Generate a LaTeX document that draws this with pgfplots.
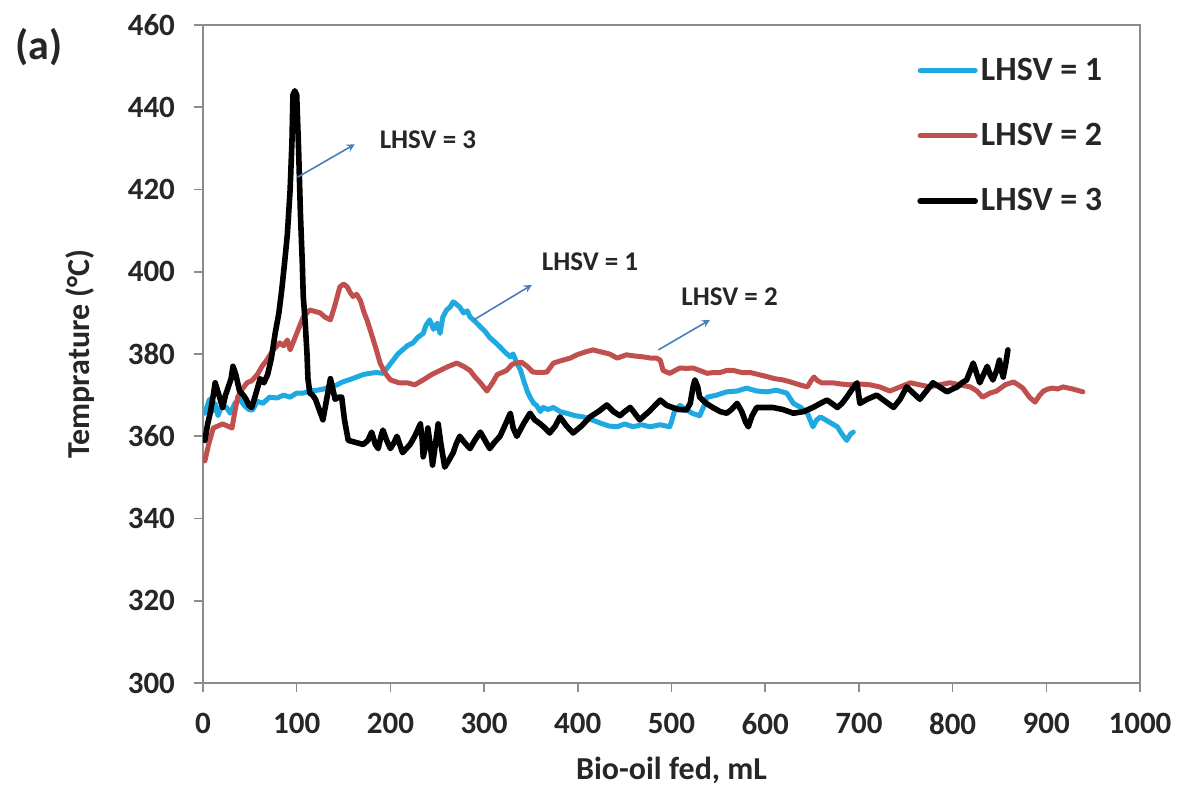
\documentclass[border=0pt]{standalone}
\usepackage{fontspec}
\setmainfont{Carlito}
\usepackage{pgfplots}
\pgfplotsset{compat=1.18}
\definecolor{lblue}{HTML}{1FA9E1}
\definecolor{lred}{HTML}{C0504D}
\definecolor{agray}{HTML}{8C8C8C}
\definecolor{arrowc}{HTML}{4A7EBB}
\begin{document}
\begin{tikzpicture}
\begin{axis}[
  at={(0,0)}, anchor=south west,
  scale only axis, width=468.5pt, height=329pt,
  xmin=0, xmax=1000, ymin=300, ymax=460,
  xtick={0,100,...,1000}, ytick={300,320,...,460},
  axis line style={agray, line width=0.8pt},
  tick style={agray, line width=0.8pt},
  tick align=outside, major tick length=4.5pt,
  xtick pos=bottom, ytick pos=left,
  /pgf/number format/assume math mode=true,
  /pgf/number format/1000 sep={},
  ticklabel style={font=\fontsize{15.5}{18}\selectfont\bfseries, text=black!85},
  yticklabel style={xshift=-6pt},
  xticklabel style={yshift=-7pt},
  xlabel={Bio-oil fed, mL}, ylabel={Temprature (°C)},
  label style={font=\fontsize{16}{19}\selectfont\bfseries, text=black!85},
  xlabel style={at={(axis description cs:0.5,-0.1322)}, anchor=center},
  ylabel style={at={(axis description cs:-0.1313,0.5)}, anchor=center},
  legend style={draw=none, fill=none, at={(rel axis cs:0.762,0.955)}, anchor=north west,
    inner sep=0pt, font=\fontsize{17}{20}\selectfont\bfseries, row sep=17pt,
    nodes={inner sep=1.5pt, text=black!85}},
  legend cell align=left,
  legend image code/.code={\draw[#1] (0pt,0pt) -- (27.5pt,0pt);},
  every axis plot/.append style={line join=round, line cap=round},
]
\addplot[lblue, line width=2.5pt] coordinates {
(2,365.6) (4,367) (7,369) (10,366) (13,368) (16,365) (20,367.5) (25,367) (29,365.6) (34,368) (39,369) (44,367.5) (49,366.5) (53,366.4) (58,368.5) (64,368) (71,369.5) (79,369.3) (86,370) (93,369.5) (100,370.5) (107,370.5) (114,371) (122,371.2) (129,371.5) (136,372) (143,372.5) (149,373.2) (157,373.8) (164,374.4) (171,375) (178,375.3) (185,375.5) (192,375.3) (198,377) (203,378.5) (208,380) (213,381) (218,382) (224,382.7) (229,384) (235,385) (238,387) (242,388.3) (246,386) (250,387.5) (253,385) (256,389) (260,390.7) (264,391.5) (267,392.7) (271,392) (274,391.4) (278,390) (282,390.5) (285,389) (290,388) (296,386.6) (301,385.5) (306,384) (311,383) (317,381.7) (322,380.5) (328,379.3) (331,380) (335,377.8) (339,376) (342,373.7) (346,371) (349,369.5) (353,368) (356,367.5) (360,366) (363,367) (368,366.5) (374,367) (381,366) (388,365.6) (397,365) (406,364.7) (415,364) (424,363.2) (433,362.5) (442,362.3) (450,363) (459,362.3) (468,362.8) (477,362.3) (488,362.8) (498,362.3) (500,363.5) (503,366) (509,367.5) (516,366.4) (523,365.5) (530,365) (534,367) (538,369.5) (548,370) (559,370.8) (570,371) (580,371.7) (591,371) (602,370.8) (612,371.2) (623,370.5) (630,368) (638,367) (645,365.6) (651,362.3) (655,364) (659,364.7) (668,363.5) (677,362.3) (682,360.5) (687,359) (691,360.5) (694,361)
};
\addlegendentry{LHSV = 1}
\addplot[lred, line width=2.5pt] coordinates {
(2,354) (6,358) (11,362) (16,362.5) (21,363) (26,362.5) (31,362) (34,366) (37,369.5) (42,371.5) (47,373) (52,373.5) (58,375) (63,377) (68,378.5) (75,381) (82,382.7) (86,382) (90,383.4) (93,381) (100,385) (107,389) (111,390) (114,390.7) (125,390) (130,389) (136,388.3) (141,392) (146,396.3) (150,397) (154,396.3) (157,395) (160,394) (164,394.5) (168,393) (172,390) (175,388.3) (181,384) (185,381) (189,377.8) (194,375.5) (200,373.7) (209,373) (218,373) (226,372.5) (235,373.7) (244,375) (253,376) (262,377) (271,377.8) (278,377) (285,376) (290,374.5) (296,373) (303,371) (309,373) (314,375) (319,375.5) (324,376) (330,377.5) (335,377.8) (340,378) (346,377) (352,375.6) (360,375.5) (367,375.6) (374,377.8) (384,378.5) (392,379) (399,379.8) (408,380.5) (416,381) (425,380.5) (434,380) (442,379) (452,379.8) (461,379.5) (470,379.3) (478,379) (484,379) (488,378.5) (491,376) (498,375.3) (509,376.6) (516,376.5) (523,376.6) (530,376) (538,375.3) (545,375.5) (552,375.5) (559,376) (566,376) (575,375.5) (584,375.5) (593,375) (602,374.5) (610,374) (619,373.7) (627,373.2) (634,372.7) (640,372.3) (645,372) (649,373.5) (652,374.4) (656,373.5) (660,373) (666,373) (672,373) (681,372.7) (690,372.5) (701,372.7) (712,372.5) (722,372) (733,371) (744,372) (755,373) (765,372.5) (776,372) (786,372.5) (797,373) (808,372.5) (819,372) (826,371) (832,369.5) (840,370.5) (847,371) (856,372.5) (865,373.2) (870,372.5) (875,371.7) (882,369.5) (888,368.3) (893,370) (897,371) (902,371.5) (907,371.7) (912,371.5) (918,372) (928,371.5) (939,370.8)
};
\addlegendentry{LHSV = 2}
\addplot[black, line width=2.8pt] coordinates {
(2,359) (5,363) (8,366) (11,370) (13,373) (17,370) (21,367) (24,370) (27,372) (30,374) (32,377) (35,375) (39,371) (43,370) (46,369) (49,367.5) (52,367) (56,370) (61,374) (65,373) (69,375) (73,379) (77,385) (81,390) (84,395.5) (87,402) (90,409) (93,420) (95,432) (96,443) (98,444) (100,443) (102,430) (104,414) (106,402) (107,394) (109,388) (111,380) (112,374) (114,370.5) (117,370) (120,369) (124,366.5) (128,364) (132,369) (136,374) (139,371) (141,369) (145,369.5) (148,369.5) (151,364) (155,359) (163,358.5) (171,358) (176,359) (180,361) (184,358) (187,357) (190,360) (192,361.5) (196,359) (200,357) (204,358.5) (207,360) (210,358) (213,356) (217,357) (221,358) (226,360) (232,363) (234,359) (235,355) (238,358) (240,362) (243,357) (245,353) (248,358) (251,363) (254,358) (258,352.5) (262,354) (267,356) (270,358) (274,360) (279,358.5) (285,357) (290,359) (296,361) (301,359) (306,357) (311,358.5) (317,360) (322,362.5) (328,365.6) (331,362) (335,360) (342,363) (349,365.6) (354,364) (360,363) (365,362) (370,360.8) (376,362.5) (381,364.7) (388,362.5) (395,360.8) (404,362.5) (413,364.7) (422,366) (431,367.6) (438,366) (445,365) (450,366) (456,367) (461,365.5) (466,364) (476,366) (488,368.8) (495,367.5) (501,367) (508,366.5) (516,366.4) (520,368) (523,372) (525,373.7) (528,372) (530,369.5) (537,368) (544,367) (552,366) (559,365.6) (564,366.5) (570,368) (575,366) (579,363.5) (582,362.3) (586,365) (591,367) (600,367) (608,367) (619,366.5) (630,365.6) (641,366) (651,367) (659,368) (666,368.8) (671,368) (677,367) (682,368) (687,369.5) (693,371.5) (698,373) (701,368) (709,369) (719,370) (728,368.5) (737,367) (744,369) (751,372) (758,370.5) (765,369) (772,371) (779,373) (786,372) (794,370.8) (800,371.5) (805,372) (810,373) (815,373.7) (819,376) (822,377.8) (826,375) (829,373) (833,375) (837,377) (840,375) (843,373.7) (847,376) (850,378.5) (852,376) (854,374.4) (857,378) (859,381)
};
\addlegendentry{LHSV = 3}
\node[font=\fontsize{13.5}{16}\selectfont\bfseries, text=black!85] at (axis cs:240,432) {LHSV = 3};
\node[font=\fontsize{13.5}{16}\selectfont\bfseries, text=black!85] at (axis cs:413,402.4) {LHSV = 1};
\node[font=\fontsize{13.5}{16}\selectfont\bfseries, text=black!85] at (axis cs:562,394) {LHSV = 2};
\draw[arrowc, line width=0.8pt, -stealth] (axis cs:101,423) -- (axis cs:162,431);
\draw[arrowc, line width=0.8pt, -stealth] (axis cs:289,388.3) -- (axis cs:351,396.8);
\draw[arrowc, line width=0.8pt, -stealth] (axis cs:486,381) -- (axis cs:541,388.3);
\end{axis}
\node[font=\fontsize{21}{24}\selectfont\bfseries, text=black!85] at (-82pt,318pt) {(a)};
\path[use as bounding box] (-101.5pt,-52pt) rectangle (488pt,341.5pt);
\end{tikzpicture}
\end{document}
